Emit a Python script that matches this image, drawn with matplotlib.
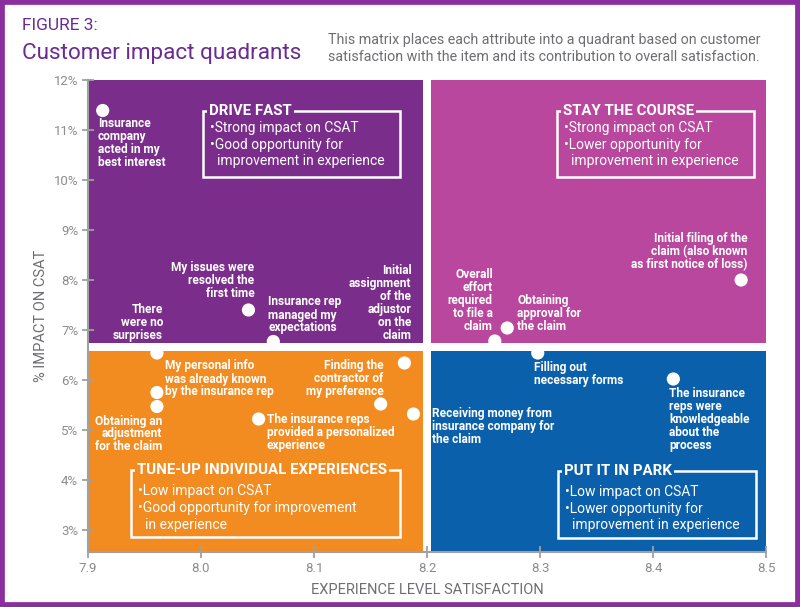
import matplotlib
matplotlib.use("Agg")
import matplotlib.pyplot as plt
from matplotlib.patches import Rectangle

plt.rcParams['font.family'] = ['Roboto', 'DejaVu Sans']

# data
attributes = [
    "Insurance\ncompany\nacted in my\nbest interest",
    "My issues were\nresolved the\nfirst time",
    "Insurance rep\nmanaged my\nexpectations",
    "There\nwere no\nsurprises",
    "Initial\nassignment\nof the\nadjustor\non the\nclaim",
    "My personal info\nwas already known\nby the insurance rep",
    "Obtaining an\nadjustment\nfor the claim",
    "Finding the\ncontractor of\nmy preference",
    "Receiving money from\ninsurance company for\nthe claim",
    "The insurance reps\nprovided a personalized\nexperience",
    "Overall\neffort\nrequired\nto file a\nclaim",
    "Obtaining\napproval for\nthe claim",
    "Initial filing of the\nclaim (also known\nas first notice of loss)",
    "Filling out\nnecessary forms",
    "The insurance\nreps were\nknowledgeable\nabout the\nprocess",
]
satisfaction = [7.913, 8.042, 8.064, 7.961, 8.180, 7.961, 7.961, 8.159,
                8.188, 8.051, 8.260, 8.271, 8.478, 8.298, 8.418]
impact = [11.39, 7.40, 6.77, 6.54, 6.34, 5.75, 5.47, 5.52,
          5.32, 5.22, 6.78, 7.04, 8.00, 6.54, 6.02]

x_ticks = [7.9, 8.0, 8.1, 8.2, 8.3, 8.4, 8.5]
y_ticks = [3, 4, 5, 6, 7, 8, 9, 10, 11, 12]
x_split = 8.2
y_split = 6.66

quad_titles = ["DRIVE FAST", "STAY THE COURSE",
               "TUNE-UP INDIVIDUAL EXPERIENCES", "PUT IT IN PARK"]
quad_bullets = [
    "\u2022Strong impact on CSAT\n\u2022Good opportunity for\n  improvement in experience",
    "\u2022Strong impact on CSAT\n\u2022Lower opportunity for\n  improvement in experience",
    "\u2022Low impact on CSAT\n\u2022Good opportunity for improvement\n  in experience",
    "\u2022Low impact on CSAT\n\u2022Lower opportunity for\n  improvement in experience",
]
quad_colors = ["#7b2d8b", "#b9479d", "#f28b20", "#0b60ab"]

# label placement: (ha, va, dx px, dy px)
label_layout = [
    ("left", "top", -5, -7), ("right", "bottom", 6, 10), ("left", "bottom", -5, 7),
    ("right", "bottom", 6, 11), ("right", "bottom", 7, 21), ("left", "bottom", 8, -6),
    ("right", "top", 5, -8), ("right", "bottom", 3, 6), ("left", "top", 19, 7),
    ("left", "top", 8, 6), ("right", "bottom", -2, 8), ("left", "bottom", 10, -5),
    ("right", "bottom", 6, 9), ("left", "top", -4, -8), ("left", "top", -4, -8),
]
# box frames in pixels: left, right, top, bottom, gap under title
box_px = [(203, 400, 111, 177, 10), (557, 754, 111, 177, 10),
          (131, 400, 470, 537, 14), (558, 756, 471, 538, 14)]

W, H = 800, 607
ax_l, ax_r, ax_t, ax_b = 88, 766, 80, 552
grey = "#8c8c8c"

fig = plt.figure(figsize=(W / 100, H / 100), dpi=100)
ax = fig.add_axes([ax_l / W, 1 - ax_b / H, (ax_r - ax_l) / W, (ax_b - ax_t) / H])

x0, x1 = 7.9, 8.5
y0, y1 = 2.56, 12
ax.set_xlim(x0, x1)
ax.set_ylim(y0, y1)

gx, gy = 0.0031, 0.08
rects = [(x0, y_split + gy, x_split - gx, y1), (x_split + gx, y_split + gy, x1, y1),
         (x0, y0, x_split - gx, y_split - gy), (x_split + gx, y0, x1, y_split - gy)]
for (a, b, c, d), col in zip(rects, quad_colors):
    ax.add_patch(Rectangle((a, b), c - a, d - b, facecolor=col, edgecolor="none", zorder=1))


def fx(px):
    return (px - ax_l) / (ax_r - ax_l)


def fy(py):
    return (ax_b - py) / (ax_b - ax_t)


for (l, r, t, b, g), title, bullets, col in zip(box_px, quad_titles, quad_bullets, quad_colors):
    ax.add_patch(Rectangle((fx(l), fy(b)), fx(r) - fx(l), fy(t) - fy(b), transform=ax.transAxes,
                           fill=False, edgecolor="white", linewidth=1.8, zorder=3))
    ax.text(fx(l + 6), fy(t), title, transform=ax.transAxes, ha="left", va="center",
            color="white", fontsize=10.8, fontweight="bold", zorder=4,
            bbox=dict(facecolor=col, edgecolor="none", pad=1.5))
    ax.text(fx(l + 7), fy(t + g), bullets, transform=ax.transAxes, ha="left", va="top",
            color="white", fontsize=10, linespacing=1.25, zorder=4)

ax.scatter(satisfaction, impact, s=90, color="white", edgecolors="none", zorder=5)
for name, x, y, (ha, va, dx, dy) in zip(attributes, satisfaction, impact, label_layout):
    ax.annotate(name, (x, y), xytext=(dx, dy), textcoords="offset pixels", ha=ha, va=va,
                multialignment=ha, color="white", fontsize=8.6, fontweight="bold",
                linespacing=1.0, zorder=6)

ax.set_xticks(x_ticks)
ax.set_xticklabels([f"{v:.1f}" for v in x_ticks])
ax.set_yticks(y_ticks)
ax.set_yticklabels([f"{v}%" for v in y_ticks])
for side in ["top", "right"]:
    ax.spines[side].set_visible(False)
for side in ["left", "bottom"]:
    ax.spines[side].set_color("#a0a0a0")
    ax.spines[side].set_linewidth(1.5)
    ax.spines[side].set_zorder(7)
ax.tick_params(direction="inout", length=8, width=1.3, color="#a0a0a0",
               labelcolor=grey, labelsize=9.5, pad=3)
ax.set_xlabel("EXPERIENCE LEVEL SATISFACTION", color="#6d6e71", fontsize=10.5, labelpad=6)
ax.set_ylabel("% IMPACT ON CSAT", color="#6d6e71", fontsize=10.5, labelpad=4)

fig.text(22 / W, 1 - 26 / H, "FIGURE 3:", color="#6b2c91", fontsize=12.5, va="center")
fig.text(22 / W, 1 - 53 / H, "Customer impact quadrants", color="#6b2c91", fontsize=16.2,
         va="center")
fig.text(328 / W, 1 - 48.5 / H,
         "This matrix places each attribute into a quadrant based on customer\n"
         "satisfaction with the item and its contribution to overall satisfaction.",
         color="#6d6e71", fontsize=10.3, va="center", linespacing=1.3)

fig.patches.append(Rectangle((0, 0), 1, 1, transform=fig.transFigure, fill=False,
                             edgecolor="#8b2e9e", linewidth=7))

fig.savefig("out.png", dpi=100)
